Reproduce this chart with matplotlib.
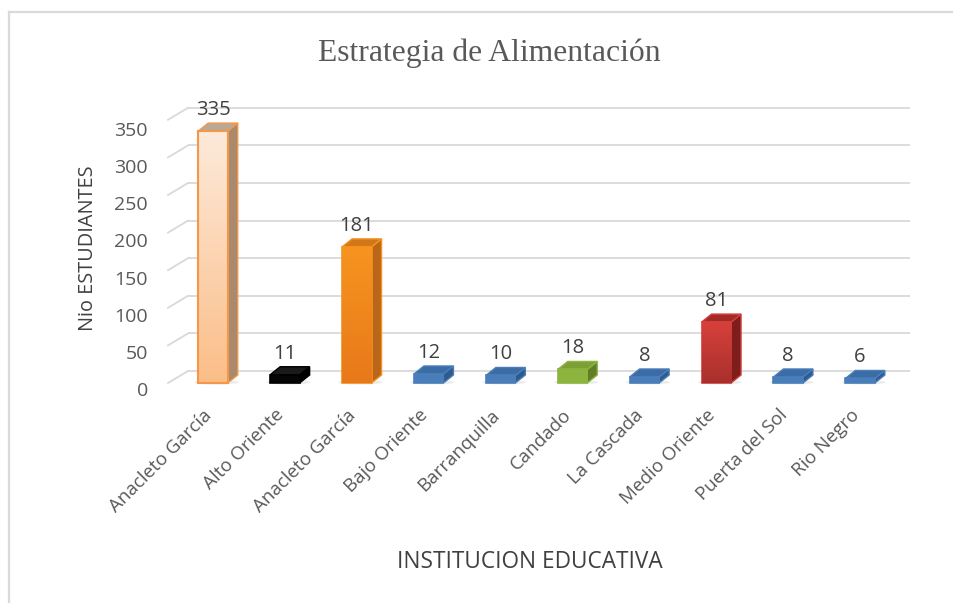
# -*- coding: utf-8 -*-
"""
Gráfico de barras (estilo 3D de Excel): Estrategia de Alimentación
"""
import matplotlib
matplotlib.use('Agg')
import matplotlib.pyplot as plt
import matplotlib.patches as patches
import numpy as np

# Datos
instituciones = ["Anacleto García", "Alto Oriente", "Anacleto García", "Bajo Oriente",
                 "Barranquilla", "Candado", "La Cascada", "Medio Oriente",
                 "Puerta del Sol", "Rio Negro"]
estudiantes = [335, 11, 181, 12, 10, 18, 8, 81, 8, 6]
ticks_y = [0, 50, 100, 150, 200, 250, 300, 350]

# Colores: (frente, lado, techo, borde)
COLORES = [
    ("#FCD0A8", "#A98A6E", "#B8A898", "#F79646"),
    ("#050505", "#000000", "#1A1A1A", "#000000"),
    ("#F7901E", "#B8661A", "#D07818", "#F7901E"),
    ("#4A7EBB", "#2F5A8E", "#3B6CA6", "#4A7EBB"),
    ("#4A7EBB", "#2F5A8E", "#3B6CA6", "#4A7EBB"),
    ("#8DB43F", "#5F7F26", "#7DA035", "#8DB43F"),
    ("#4A7EBB", "#2F5A8E", "#3B6CA6", "#4A7EBB"),
    ("#D23C36", "#7E1D1B", "#A52A26", "#D04040"),
    ("#4A7EBB", "#2F5A8E", "#3B6CA6", "#4A7EBB"),
    ("#4A7EBB", "#2F5A8E", "#3B6CA6", "#4A7EBB"),
]

FUENTE = 'Open Sans'

W, H = 954, 603
fig = plt.figure(figsize=(W / 100, H / 100), dpi=100)

# escala en pixeles: categoria 0 en x=213, paso 71.9 px; valor 0 en y=383, 0.752 px/unidad
PX_CAT = 71.9
PX_VAL = 0.752
X0, Y0 = 213, 383
ax_l, ax_r, ax_t, ax_b = 150, 930, 90, 400
ax = fig.add_axes([ax_l / W, 1 - ax_b / H, (ax_r - ax_l) / W, (ax_b - ax_t) / H])
ax.set_xlim((ax_l - X0) / PX_CAT, (ax_r - X0) / PX_CAT)
ax.set_ylim((Y0 - ax_b) / PX_VAL, (Y0 - ax_t) / PX_VAL)
ax.axis('off')

# pared del fondo (desplazamiento de profundidad)
wall_dx = 20 / PX_CAT
wall_dy = 12 / PX_VAL
x_front_left = (168 - X0) / PX_CAT
x_back_right = (910 - X0) / PX_CAT
for v in ticks_y:
    ax.plot([x_front_left + wall_dx, x_back_right], [v + wall_dy, v + wall_dy],
            color="#D9D9D9", lw=1.3, zorder=1, solid_capstyle='butt')
    ax.plot([x_front_left, x_front_left + wall_dx], [v, v + wall_dy],
            color="#D9D9D9", lw=1.3, zorder=1)

# barras pseudo-3D
bw = 0.41
ddx = 10 / PX_CAT
ddy = 8 / PX_VAL
for i, (val, (cf, cs, ct, ce)) in enumerate(zip(estudiantes, COLORES)):
    xl, xr = i - bw / 2, i + bw / 2
    # sombra
    ax.add_patch(patches.Ellipse((i + 0.05, 1), bw * 1.5, 6, color="#E0E0E0",
                                 alpha=0.6, zorder=2, lw=0))
    side = patches.Polygon([(xr, 0), (xr + ddx, ddy), (xr + ddx, val + ddy), (xr, val)],
                           facecolor=cs, edgecolor=ce, lw=1.0, zorder=3)
    top = patches.Polygon([(xl, val), (xr, val), (xr + ddx, val + ddy), (xl + ddx, val + ddy)],
                          facecolor=ct, edgecolor=ce, lw=1.0, zorder=3)
    ax.add_patch(side)
    ax.add_patch(top)
    front = patches.Rectangle((xl, 0), bw, val, facecolor=cf, edgecolor=ce,
                              lw=1.2, zorder=4)
    ax.add_patch(front)
    if i == 0:
        # degradado suave
        grad = np.linspace(0, 1, 256).reshape(-1, 1)
        cmap = matplotlib.colors.LinearSegmentedColormap.from_list("g", ["#FBBE88", "#FDEADB"])
        im = ax.imshow(grad, extent=(xl, xr, 0, val), origin='lower', cmap=cmap,
                       aspect='auto', zorder=4, interpolation='bilinear')
        im.set_clip_path(front)
        ax.add_patch(patches.Rectangle((xl, 0), bw, val, fill=False, edgecolor=ce,
                                       lw=1.5, zorder=5))
    elif i in (2, 7):
        grad = np.linspace(0, 1, 256).reshape(-1, 1)
        if i == 2:
            cols = ["#E8791A", "#F7941F"]
        else:
            cols = ["#A8302C", "#D8403A"]
        cmap = matplotlib.colors.LinearSegmentedColormap.from_list("g%d" % i, cols)
        im = ax.imshow(grad, extent=(xl, xr, 0, val), origin='lower', cmap=cmap,
                       aspect='auto', zorder=4, interpolation='bilinear')
        im.set_clip_path(front)
    ax.text(i, val + 21 / PX_VAL, str(val),
            ha='center', va='center', fontsize=14.5, color="#404040",
            family=FUENTE, zorder=6)

# etiquetas del eje y (plano frontal)
for v in ticks_y:
    ax.text((148 - X0) / PX_CAT, (Y0 - 391) / PX_VAL + v * 0.743 / PX_VAL, str(v),
            ha='right', va='center', fontsize=14, color="#595959",
            family=FUENTE, clip_on=False)

# etiquetas de categorias
for i, name in enumerate(instituciones):
    ax.text(i - 0.14, (Y0 - 406) / PX_VAL, name, rotation=45, ha='right', va='top',
            rotation_mode='anchor', fontsize=13.5, color="#595959",
            family=FUENTE, clip_on=False)

fig.text(530 / W, 1 - 562 / H, "INSTITUCION EDUCATIVA", ha='center', va='center',
         fontsize=16.3, color="#404040", family=FUENTE)
fig.text(88 / W, 1 - 248 / H, "Nio ESTUDIANTES", ha='center', va='center',
         rotation=90, fontsize=14.3, color="#404040", family=FUENTE)
fig.text(489 / W, 1 - 53 / H, "Estrategia de Alimentación", ha='center', va='center',
         fontsize=22.8, color="#595959", family='Liberation Serif')

# borde del grafico
fig.add_artist(plt.Line2D([9 / W, 9 / W], [0, 1 - 12 / H], transform=fig.transFigure,
                          color="#D9D9D9", lw=1.6))
fig.add_artist(plt.Line2D([9 / W, 1], [1 - 12 / H, 1 - 12 / H], transform=fig.transFigure,
                          color="#D9D9D9", lw=1.6))

fig.savefig("out.png", dpi=100, facecolor='white')
